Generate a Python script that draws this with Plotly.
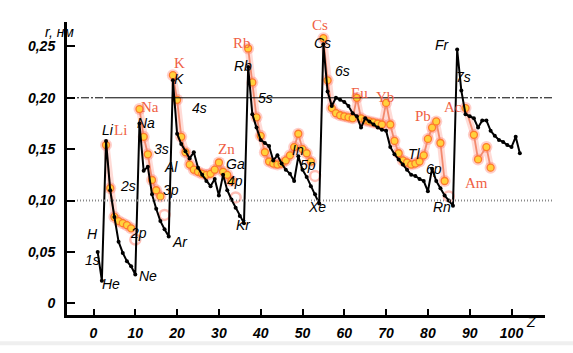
import plotly.graph_objects as go

# ---------------- data ----------------
# theoretical radii of outer orbitals (black line), Z = 1..102
z_theory = list(range(1, 103))
r_theory = [
    0.050, 0.022,
    0.158, 0.110, 0.084, 0.060, 0.049, 0.041, 0.036, 0.028,
    0.175, 0.129, 0.133, 0.106, 0.092, 0.080, 0.072, 0.065,
    0.217, 0.165, 0.155, 0.148, 0.141, 0.147, 0.132, 0.125, 0.119, 0.114, 0.121, 0.105, 0.125, 0.110, 0.101, 0.093, 0.085, 0.078,
    0.230, 0.184, 0.171, 0.159, 0.156, 0.153, 0.139, 0.144, 0.136, 0.130, 0.126, 0.119, 0.143, 0.130, 0.123, 0.114, 0.106, 0.097,
    0.252, 0.206,
    0.192, 0.200, 0.198, 0.196, 0.192, 0.185, 0.182, 0.171, 0.180, 0.177, 0.174, 0.171, 0.169, 0.168,
    0.152, 0.145, 0.140, 0.135, 0.130, 0.125, 0.124, 0.121, 0.119, 0.109,
    0.131, 0.119, 0.112, 0.105, 0.100, 0.095,
    0.247, 0.207, 0.184, 0.182, 0.180, 0.171, 0.178, 0.178, 0.168, 0.163, 0.159, 0.157, 0.154, 0.152, 0.162, 0.146,
]

# measured atomic radii (orange circles), one list per period
z_p2 = [3, 4, 5, 6, 7, 8, 9]
r_p2 = [0.154, 0.112, 0.084, 0.080, 0.078, 0.076, 0.073]
z_p3 = [11, 12, 13, 14, 15, 16]
r_p3 = [0.189, 0.162, 0.145, 0.120, 0.110, 0.104]
z_p4 = list(range(19, 34))
r_p4 = [0.222, 0.198, 0.162, 0.147, 0.135, 0.130, 0.128, 0.126, 0.125, 0.126, 0.130, 0.137, 0.128, 0.125, 0.119]
z_p5 = list(range(37, 53))
r_p5 = [0.248, 0.215, 0.181, 0.163, 0.147, 0.138, 0.136, 0.135, 0.136, 0.139, 0.144, 0.152, 0.165, 0.150, 0.146, 0.138]
z_p6 = list(range(55, 85))
r_p6 = [0.258, 0.217, 0.190, 0.185, 0.183, 0.182, 0.181, 0.180, 0.200, 0.180, 0.178, 0.177, 0.176, 0.175, 0.174,
        0.195, 0.174, 0.158, 0.146, 0.139, 0.137, 0.135, 0.136, 0.138, 0.144, 0.160, 0.171, 0.177, 0.156, 0.119]
z_p7 = [89, 91, 92, 94, 95]
r_p7 = [0.190, 0.164, 0.140, 0.152, 0.132]
# faint open rings at the ends of the periods
z_faint = [10, 17, 34, 53, 85]
r_faint = [0.062, 0.086, 0.103, 0.124, 0.104]

x_ticks = [0, 10, 20, 30, 40, 50, 60, 70, 80, 90, 100]
y_ticks = [0, 0.05, 0.10, 0.15, 0.20, 0.25]
y_ticktext = ["0", "0,05", "0,10", "0,15", "0,20", "0,25"]

# ---------------- figure ----------------
zs, rs = [], []
for zz, rr in [(z_p2, r_p2), (z_p3, r_p3), (z_p4, r_p4), (z_p5, r_p5), (z_p6, r_p6), (z_p7, r_p7)]:
    zs += zz + [None]
    rs += rr + [None]

fig = go.Figure()
# glow
fig.add_trace(go.Scatter(x=zs, y=rs, mode="lines+markers", hoverinfo="skip",
                         line=dict(color="rgba(255,90,70,0.22)", width=7),
                         marker=dict(size=12, color="rgba(255,80,60,0.28)")))
fig.add_trace(go.Scatter(x=z_faint, y=r_faint, mode="markers", hoverinfo="skip",
                         marker=dict(size=10, color="rgba(255,120,100,0.0)",
                                     line=dict(color="rgba(255,110,90,0.45)", width=2.5))))
fig.add_trace(go.Scatter(x=zs, y=rs, mode="lines+markers",
                         line=dict(color="#f38a6e", width=1.8),
                         marker=dict(size=7, color="#ffd23c", line=dict(color="#ff7a2a", width=1.3))))
fig.add_trace(go.Scatter(x=z_theory, y=r_theory, mode="lines+markers",
                         line=dict(color="black", width=2),
                         marker=dict(size=4, color="black")))

L, R, T, B = 67, 28, 22, 31
W, H = 573, 353
pw, ph = W - L - R, H - T - B


def px(xp):
    return (xp - L) / pw


def py(yp):
    return (H - B - yp) / ph


ann = []
black_labels = [
    ("H", 85, 249), ("1s", 83, 276), ("He", 100, 300), ("Li", 100, 133), ("2s", 118, 190),
    ("2p", 128, 248), ("Ne", 137, 292), ("Na", 135, 115), ("3s", 152, 152), ("Al", 162, 170),
    ("3p", 161, 194), ("Ar", 170, 257), ("K", 172, 70), ("4s", 190, 100), ("Ga", 224, 167),
    ("4p", 235, 185), ("Kr", 243, 240), ("Rb", 243, 57), ("5s", 265, 90), ("In", 298, 153),
    ("5p", 308, 168), ("Xe", 317, 222), ("Cs", 322, 33), ("6s", 342, 62), ("Tl", 423, 157),
    ("6p", 444, 173), ("Rn", 453, 222), ("Fr", 452, 35), ("7s", 473, 68), ("Z", 538, 339),
]
for t, xx, yy in black_labels:
    ann.append(dict(text="<i>%s</i>" % t, x=px(xx), y=py(yy), xref="paper", yref="paper",
                    showarrow=False, font=dict(family="Liberation Sans Narrow, Liberation Sans", size=14, color="black")))
red_labels = [
    ("Li", 112, 133), ("Na", 139, 99), ("K", 172, 54), ("Zn", 216, 152), ("Rb", 242, 33),
    ("Cs", 320, 15), ("Eu", 359, 84), ("Yb", 385, 89), ("Pb", 433, 108), ("Ac", 464, 99), ("Am", 490, 187),
]
for t, xx, yy in red_labels:
    ann.append(dict(text=t, x=px(xx), y=py(yy), xref="paper", yref="paper", showarrow=False,
                    font=dict(family="Liberation Serif", size=15, color="#ef5f45")))
ann.append(dict(text="<i>r, нм</i>", x=px(43), y=py(22), xref="paper", yref="paper", showarrow=False,
                font=dict(family="Liberation Sans Narrow, Liberation Sans", size=14, color="black")))

shapes = [
    dict(type="rect", xref="paper", yref="paper", x0=-0.2, x1=1.2, y0=py(353), y1=py(349),
         fillcolor="#efefef", line=dict(width=0), layer="below"),
    dict(type="line", xref="paper", yref="y", x0=0, x1=px(105), y0=0.20, y1=0.20,
         line=dict(color="black", width=1, dash="8px,2px,2px,2px")),
    dict(type="line", xref="paper", yref="y", x0=px(105), x1=px(460), y0=0.20, y1=0.20,
         line=dict(color="black", width=1)),
    dict(type="line", xref="paper", yref="y", x0=px(460), x1=px(553), y0=0.20, y1=0.20,
         line=dict(color="black", width=1, dash="8px,2px,2px,2px")),
    dict(type="line", xref="paper", yref="y", x0=px(77), x1=px(553), y0=0.10, y1=0.10,
         line=dict(color="#8a8a8a", width=2, dash="1px,2px")),
]

zl = (L - 93.5) / 4.18
zr = (W - R - 93.5) / 4.18
fig.update_layout(
    width=W, height=H, margin=dict(l=L, r=R, t=T, b=B),
    paper_bgcolor="white", plot_bgcolor="white", showlegend=False,
    annotations=ann, shapes=shapes,
    xaxis=dict(range=[zl, zr], tickvals=x_ticks, ticktext=[str(v) for v in x_ticks],
               showgrid=False, zeroline=False, showline=True, linecolor="black", linewidth=2.5,
               ticks="inside", ticklen=6, tickwidth=2, tickcolor="black", ticklabelstandoff=3,
               tickfont=dict(family="Liberation Sans Narrow, Liberation Sans", size=14, color="black",
                             style="italic", weight="bold")),
    yaxis=dict(range=[(310 - 322) / 1052.0, (310 - 22) / 1052.0], tickvals=y_ticks, ticktext=y_ticktext,
               showgrid=False, zeroline=False, showline=True, linecolor="black", linewidth=3,
               ticks="inside", ticklen=8, tickwidth=2, tickcolor="black", ticklabelstandoff=6,
               tickfont=dict(family="Liberation Sans Narrow, Liberation Sans", size=14, color="black",
                             style="italic", weight="bold")),
)
fig.write_html("out.html")
